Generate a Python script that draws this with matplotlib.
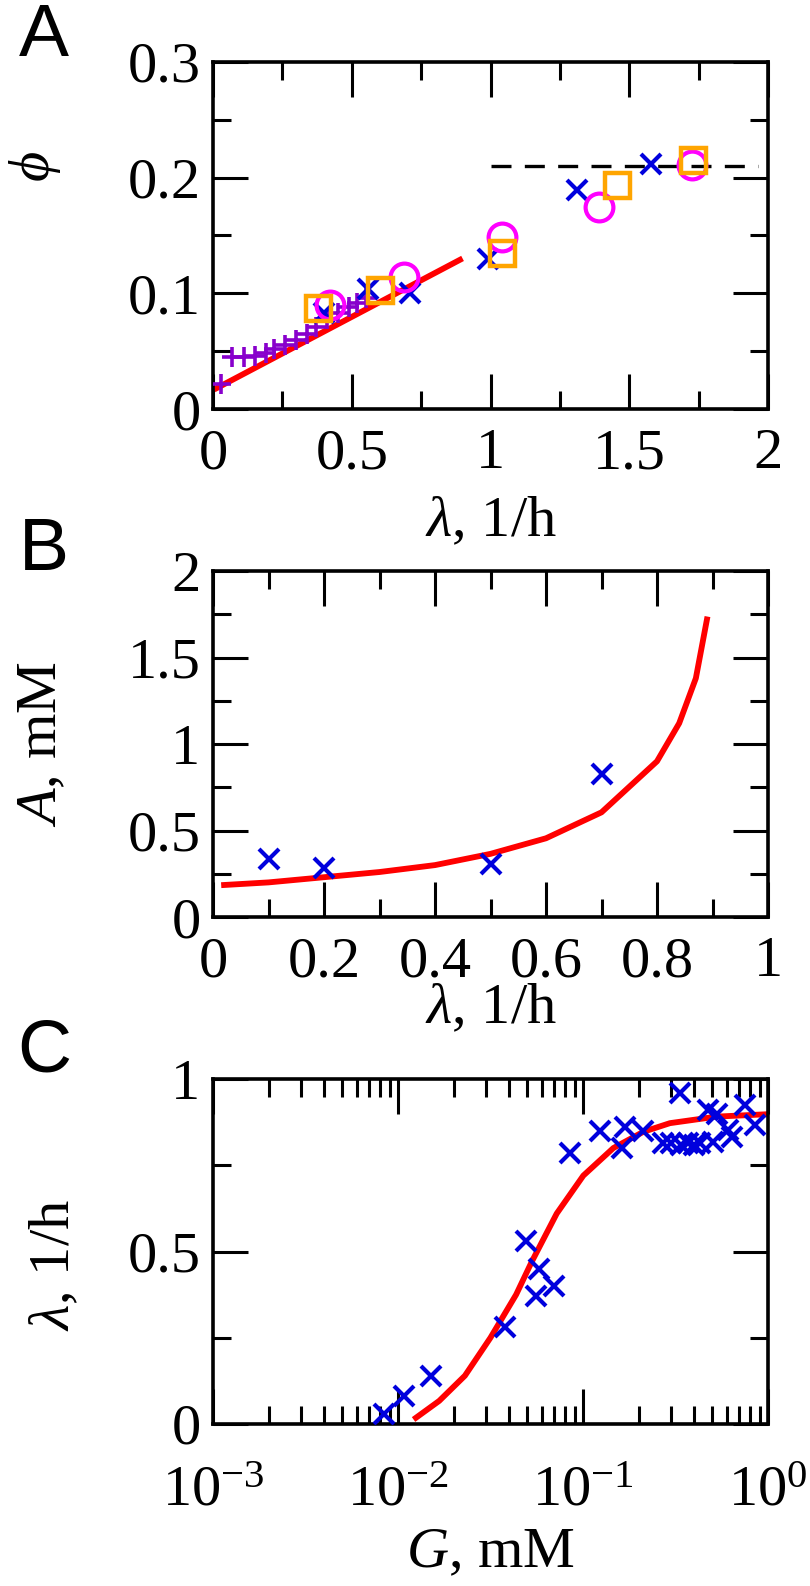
import matplotlib
matplotlib.use('Agg')
import matplotlib.pyplot as plt
from matplotlib.ticker import MultipleLocator, LogLocator, NullFormatter

plt.rcParams['font.family'] = ['Liberation Serif', 'DejaVu Serif']
plt.rcParams['mathtext.fontset'] = 'custom'
plt.rcParams['mathtext.rm'] = 'Liberation Serif'
plt.rcParams['mathtext.it'] = 'Liberation Serif:italic'
for a in ('xtick', 'ytick'):
    plt.rcParams[a + '.direction'] = 'in'
    plt.rcParams[a + '.major.size'] = 25
    plt.rcParams[a + '.minor.size'] = 13
    plt.rcParams[a + '.major.width'] = 2.2
    plt.rcParams[a + '.minor.width'] = 2.2

# panel A data
plus_x = [0.03, 0.07, 0.11, 0.15, 0.19, 0.22, 0.26, 0.30, 0.34, 0.37, 0.41, 0.45, 0.49, 0.52, 0.55]
plus_y = [0.022, 0.045, 0.045, 0.046, 0.048, 0.052, 0.055, 0.060, 0.065, 0.071, 0.078, 0.083, 0.088, 0.092, 0.096]
crossA_x = [0.40, 0.56, 0.71, 0.99, 1.31, 1.58]
crossA_y = [0.083, 0.104, 0.100, 0.130, 0.189, 0.212]
circ_x = [0.42, 0.69, 1.04, 1.39, 1.725]
circ_y = [0.090, 0.114, 0.149, 0.175, 0.211]
sq_x = [0.38, 0.60, 1.04, 1.455, 1.73]
sq_y = [0.087, 0.103, 0.135, 0.194, 0.215]
fitA_x = [0.013, 0.89]
fitA_y = [0.018, 0.129]
plateau_x = [1.0, 1.965]
plateau_y = [0.21, 0.21]

# panel B data
crossB_x = [0.1, 0.2, 0.5, 0.7]
crossB_y = [0.334, 0.286, 0.305, 0.826]
fitB_x = [0.02, 0.1, 0.2, 0.3, 0.4, 0.5, 0.6, 0.7, 0.8, 0.84, 0.87, 0.89]
fitB_y = [0.185, 0.20, 0.23, 0.26, 0.30, 0.365, 0.455, 0.605, 0.90, 1.12, 1.38, 1.72]

# panel C data
G = [0.0084, 0.0108, 0.0151, 0.038, 0.049, 0.0555, 0.058, 0.070, 0.085, 0.124,
     0.162, 0.169, 0.212, 0.27, 0.30, 0.34, 0.37, 0.40, 0.43, 0.334,
     0.475, 0.506, 0.528, 0.61, 0.637, 0.751, 0.851]
lam = [0.03, 0.08, 0.14, 0.28, 0.53, 0.37, 0.45, 0.40, 0.785, 0.85,
       0.80, 0.86, 0.85, 0.815, 0.815, 0.81, 0.815, 0.81, 0.815, 0.958,
       0.91, 0.818, 0.90, 0.852, 0.833, 0.925, 0.867]
fitC_G = [0.0125, 0.0167, 0.023, 0.0316, 0.0435, 0.0528, 0.0721, 0.1004, 0.146, 0.212, 0.295, 0.528, 1.0]
fitC_l = [0.018, 0.067, 0.14, 0.25, 0.375, 0.47, 0.61, 0.72, 0.80, 0.847, 0.872, 0.891, 0.898]

BLUE = '#0000DD'
FS = 42


def style(ax, xpad=14):
    for s in ax.spines.values():
        s.set_linewidth(2.6)
    ax.tick_params(which='both', direction='in', top=True, right=True, width=2.2,
                   labelsize=FS)
    ax.tick_params(which='major', length=25)
    ax.tick_params(which='minor', length=13)
    ax.tick_params(axis='x', pad=xpad)
    ax.tick_params(axis='y', pad=9)


fig = plt.figure(figsize=(8.1, 15.86), dpi=100)
W, H = 810, 1586


def rect(left, top, right, bottom):
    return [left / W, 1 - bottom / H, (right - left) / W, (bottom - top) / H]


# A
ax = fig.add_axes(rect(213, 62, 768, 409))
ax.plot(fitA_x, fitA_y, color='red', lw=4.2, zorder=2)
ax.plot(plateau_x, plateau_y, color='black', lw=2.4, dashes=(6, 4), zorder=2)
ax.plot(plus_x, plus_y, '+', color='#8800CC', ms=15, mew=2.6, zorder=3)
ax.plot(crossA_x, crossA_y, 'x', color=BLUE, ms=14, mew=3, zorder=3)
ax.plot(circ_x, circ_y, 'o', mfc='none', mec='#FF00FF', ms=20, mew=3, zorder=4)
ax.plot(sq_x, sq_y, 's', mfc='none', mec='#FFA500', ms=18, mew=3.2, zorder=5)
ax.set_xlim(0, 2)
ax.set_ylim(0, 0.3)
ax.set_xticks([0, 0.5, 1, 1.5, 2], ['0', '0.5', '1', '1.5', '2'])
ax.xaxis.set_minor_locator(MultipleLocator(0.25))
ax.set_yticks([0, 0.1, 0.2, 0.3], ['0', '0.1', '0.2', '0.3'])
ax.yaxis.set_minor_locator(MultipleLocator(0.05))
style(ax)
ax.set_xlabel(r'$\lambda$, 1/h', fontsize=FS)
ax.xaxis.set_label_coords(0.5, -0.25)
ax.set_ylabel(r'$\phi$', fontsize=FS)
ax.yaxis.set_label_coords(-0.27, 0.7)

# B
ax = fig.add_axes(rect(213, 571, 768, 917))
ax.plot(fitB_x, fitB_y, color='red', lw=4.2, zorder=2)
ax.plot(crossB_x, crossB_y, 'x', color=BLUE, ms=14, mew=3, zorder=3)
ax.set_xlim(0, 1)
ax.set_ylim(0, 2)
ax.set_xticks([0, 0.2, 0.4, 0.6, 0.8, 1], ['0', '0.2', '0.4', '0.6', '0.8', '1'])
ax.xaxis.set_minor_locator(MultipleLocator(0.1))
ax.set_yticks([0, 0.5, 1, 1.5, 2], ['0', '0.5', '1', '1.5', '2'])
ax.yaxis.set_minor_locator(MultipleLocator(0.25))
style(ax)
ax.set_xlabel(r'$\lambda$, 1/h', fontsize=FS)
ax.xaxis.set_label_coords(0.5, -0.19)
ax.set_ylabel(r'$A$, mM', fontsize=FS)
ax.yaxis.set_label_coords(-0.26, 0.5)

# C
ax = fig.add_axes(rect(213, 1079, 768, 1424))
ax.plot(fitC_G, fitC_l, color='red', lw=4.2, zorder=2)
ax.plot(G, lam, 'x', color=BLUE, ms=15, mew=3, zorder=3)
ax.set_xscale('log')
ax.set_xlim(1e-3, 1)
ax.set_ylim(0, 1)
ax.xaxis.set_major_locator(LogLocator(base=10))
ax.xaxis.set_minor_locator(LogLocator(base=10, subs=range(2, 10)))
ax.xaxis.set_minor_formatter(NullFormatter())
ax.set_yticks([0, 0.5, 1], ['0', '0.5', '1'])
ax.yaxis.set_minor_locator(MultipleLocator(0.25))
style(ax, xpad=30)
ax.set_xlabel(r'$G$, mM', fontsize=FS)
ax.xaxis.set_label_coords(0.5, -0.30)
ax.set_ylabel(r'$\lambda$, 1/h', fontsize=FS)
ax.yaxis.set_label_coords(-0.238, 0.46)

# panel letters
for lab, y in [('A', 36), ('B', 551), ('C', 1052)]:
    fig.text(44 / W, 1 - y / H, lab, fontsize=54, family='Liberation Sans',
             ha='center', va='center')

fig.savefig('out.png', dpi=100)
